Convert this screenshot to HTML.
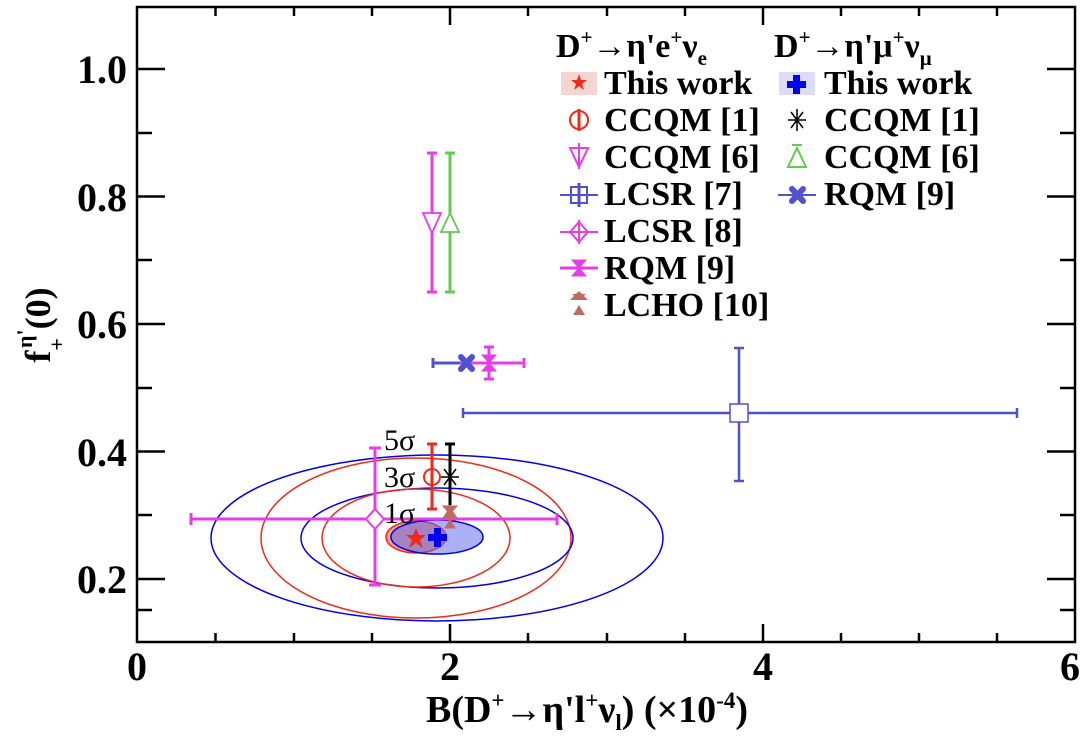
<!DOCTYPE html>
<html><head><meta charset="utf-8"><style>
html,body{margin:0;padding:0;background:#fff;}
svg{display:block;}
text{font-family:"Liberation Serif",serif;font-weight:bold;}
</style></head><body>
<svg width="1090" height="736" viewBox="0 0 1090 736" xmlns="http://www.w3.org/2000/svg">
<g fill="none" stroke-width="1.5">
<ellipse cx="437" cy="538" rx="226" ry="83" stroke="#0000ee"/>
<ellipse cx="416" cy="538" rx="155" ry="80" stroke="#ee2a1a"/>
<ellipse cx="437" cy="538" rx="136" ry="50" stroke="#0000ee"/>
<ellipse cx="416" cy="538" rx="94" ry="49" stroke="#ee2a1a"/>
</g>
<ellipse cx="416" cy="537" rx="30" ry="16" fill="#f2a090" stroke="#ee2a1a" stroke-width="1.5"/>
<ellipse cx="437" cy="537" rx="46" ry="17" fill="rgba(90,100,240,0.5)" stroke="#0000ee" stroke-width="1.5"/>
<g stroke="#e83ce8" stroke-width="3" fill="none">
<line x1="191" y1="519" x2="557" y2="519"/><line x1="375" y1="448" x2="375" y2="585"/>
<line x1="191" y1="513" x2="191" y2="525"/><line x1="557" y1="513" x2="557" y2="525"/>
<line x1="369" y1="448" x2="381" y2="448"/><line x1="369" y1="585" x2="381" y2="585"/>
<path d="M375 509 L384 519 L375 529 L366 519Z" fill="#fff" stroke-width="2"/>
</g>
<g stroke="#ee2a1a" stroke-width="3" fill="none">
<line x1="432" y1="444" x2="432" y2="509"/><line x1="427" y1="444" x2="437" y2="444"/><line x1="427" y1="509" x2="437" y2="509"/>
<circle cx="432" cy="477" r="8" fill="none" stroke-width="2"/>
</g>
<g stroke="#000" stroke-width="3">
<line x1="450" y1="444" x2="450" y2="518"/><line x1="445" y1="444" x2="455" y2="444"/>
<g stroke-width="1.5"><line x1="441" y1="477" x2="459" y2="477"/><line x1="444" y1="469" x2="456" y2="485"/><line x1="456" y1="469" x2="444" y2="485"/><line x1="450" y1="467" x2="450" y2="487"/></g>
</g>
<g fill="#c06a60" stroke="#c06a60">
<line x1="450" y1="505" x2="450" y2="525" stroke-width="3"/>
<path d="M443 518 L457 518 L450 508Z"/><path d="M443 506 L457 506 L450 514Z"/><path d="M445 528 L455 528 L450 520Z"/>
</g>
<path d="M416 528 L419 535 L426 535 L420 540 L423 548 L416 543 L409 548 L412 540 L406 535 L413 535Z" fill="#ee2a1a"/>
<path d="M434 528 h7 v6 h6 v7 h-6 v6 h-7 v-6 h-6 v-7 h6z" fill="#0000ee"/>
<g stroke="#e83ce8" stroke-width="3" fill="none">
<line x1="432" y1="153" x2="432" y2="292"/><line x1="427" y1="153" x2="437" y2="153"/><line x1="427" y1="292" x2="437" y2="292"/>
<path d="M423 213 L441 213 L432 233Z" fill="#fff" stroke-width="1.8"/>
</g>
<g stroke="#60cc50" stroke-width="3" fill="none">
<line x1="450" y1="153" x2="450" y2="292"/><line x1="445" y1="153" x2="455" y2="153"/><line x1="445" y1="292" x2="455" y2="292"/>
<path d="M441 232 L459 232 L450 213Z" fill="#fff" stroke-width="1.8"/>
</g>
<g stroke="#5050d0" stroke-width="3">
<line x1="433" y1="363" x2="498" y2="363"/><line x1="433" y1="358" x2="433" y2="368"/>
</g>
<g stroke="#e83ce8" stroke-width="3" fill="#e83ce8">
<line x1="460" y1="363" x2="524" y2="363"/><line x1="489" y1="347" x2="489" y2="379"/>
<line x1="524" y1="358" x2="524" y2="368"/><line x1="484" y1="347" x2="494" y2="347"/><line x1="484" y1="379" x2="494" y2="379"/>
<path d="M482 355 L496 355 L489 363Z M482 371 L496 371 L489 363Z" stroke-width="1"/>
</g>
<g stroke="#5050d0" stroke-width="6" stroke-linecap="round"><line x1="461" y1="357" x2="472" y2="369"/><line x1="472" y1="357" x2="461" y2="369"/></g>
<g stroke="#5050d0" stroke-width="2.5" fill="none">
<line x1="463" y1="413" x2="1017" y2="413"/><line x1="739" y1="348" x2="739" y2="481"/>
<line x1="463" y1="408" x2="463" y2="418"/><line x1="1017" y1="408" x2="1017" y2="418"/>
<line x1="734" y1="348" x2="744" y2="348"/><line x1="734" y1="481" x2="744" y2="481"/>
<rect x="730" y="404" width="18" height="18" fill="#fff" stroke-width="1.5"/>
</g>
<g font-size="30">
<text x="384" y="450" style="font-weight:normal">5σ</text>
<text x="384" y="487" style="font-weight:normal">3σ</text>
<text x="384" y="523" style="font-weight:normal">1σ</text>
</g>
<rect x="137" y="7" width="938" height="635" fill="none" stroke="#000" stroke-width="2.5"/>
<g stroke="#000" stroke-width="2.5">
<line x1="215.5" y1="642" x2="215.5" y2="633"/><line x1="294" y1="642" x2="294" y2="633"/><line x1="372" y1="642" x2="372" y2="633"/><line x1="450" y1="642" x2="450" y2="624"/>
<line x1="528" y1="642" x2="528" y2="633"/><line x1="607" y1="642" x2="607" y2="633"/><line x1="685" y1="642" x2="685" y2="633"/><line x1="763" y1="642" x2="763" y2="624"/>
<line x1="841" y1="642" x2="841" y2="633"/><line x1="919" y1="642" x2="919" y2="633"/><line x1="997" y1="642" x2="997" y2="633"/>
<line x1="215.5" y1="7" x2="215.5" y2="16"/><line x1="294" y1="7" x2="294" y2="16"/><line x1="372" y1="7" x2="372" y2="16"/><line x1="450" y1="7" x2="450" y2="25"/>
<line x1="528" y1="7" x2="528" y2="16"/><line x1="607" y1="7" x2="607" y2="16"/><line x1="685" y1="7" x2="685" y2="16"/><line x1="763" y1="7" x2="763" y2="25"/>
<line x1="841" y1="7" x2="841" y2="16"/><line x1="919" y1="7" x2="919" y2="16"/><line x1="997" y1="7" x2="997" y2="16"/>
<line x1="137" y1="579" x2="165" y2="579"/><line x1="137" y1="451.5" x2="165" y2="451.5"/><line x1="137" y1="324" x2="165" y2="324"/><line x1="137" y1="196.5" x2="165" y2="196.5"/><line x1="137" y1="69" x2="165" y2="69"/>
<line x1="137" y1="610" x2="152" y2="610"/><line x1="137" y1="515" x2="152" y2="515"/><line x1="137" y1="388" x2="152" y2="388"/><line x1="137" y1="260" x2="152" y2="260"/><line x1="137" y1="133" x2="152" y2="133"/>
<line x1="1075" y1="579" x2="1047" y2="579"/><line x1="1075" y1="451.5" x2="1047" y2="451.5"/><line x1="1075" y1="324" x2="1047" y2="324"/><line x1="1075" y1="196.5" x2="1047" y2="196.5"/><line x1="1075" y1="69" x2="1047" y2="69"/>
<line x1="1075" y1="610" x2="1060" y2="610"/><line x1="1075" y1="515" x2="1060" y2="515"/><line x1="1075" y1="388" x2="1060" y2="388"/><line x1="1075" y1="260" x2="1060" y2="260"/><line x1="1075" y1="133" x2="1060" y2="133"/>
</g>
<g font-size="40" text-anchor="middle">
<text x="137" y="680">0</text><text x="450" y="680">2</text><text x="763" y="680">4</text><text x="1070" y="680">6</text>
</g>
<g font-size="40" text-anchor="end">
<text x="127" y="593">0.2</text><text x="127" y="466">0.4</text><text x="127" y="338">0.6</text><text x="127" y="211">0.8</text><text x="127" y="83">1.0</text>
</g>
<text x="587" y="722" font-size="38" text-anchor="middle">B(D<tspan font-size="23" dy="-14">+</tspan><tspan dy="14">→η'l</tspan><tspan font-size="23" dy="-14">+</tspan><tspan dy="14">ν</tspan><tspan font-size="23" dy="8">l</tspan><tspan dy="-8">) (×10</tspan><tspan font-size="23" dy="-14">-4</tspan><tspan dy="14">)</tspan></text>
<text transform="translate(50,325) rotate(-90)" font-size="36" text-anchor="middle">f<tspan font-size="22" dy="14">+</tspan><tspan font-size="22" dx="-10" dy="-32">η'</tspan><tspan dy="18">(0)</tspan></text>
<g font-size="34">
<text x="556" y="57">D<tspan font-size="21" dy="-13">+</tspan><tspan dy="13">→η'e</tspan><tspan font-size="21" dy="-13">+</tspan><tspan dy="13">ν</tspan><tspan font-size="21" dy="8">e</tspan></text>
<text x="774" y="57">D<tspan font-size="21" dy="-13">+</tspan><tspan dy="13">→η'μ</tspan><tspan font-size="21" dy="-13">+</tspan><tspan dy="13">ν</tspan><tspan font-size="21" dy="8">μ</tspan></text>
<text x="604" y="94">This work</text><text x="604" y="131">CCQM [1]</text><text x="604" y="168">CCQM [6]</text><text x="604" y="205">LCSR [7]</text><text x="604" y="242">LCSR [8]</text><text x="604" y="279">RQM [9]</text><text x="604" y="316">LCHO [10]</text>
<text x="824" y="94">This work</text><text x="824" y="131">CCQM [1]</text><text x="824" y="168">CCQM [6]</text><text x="824" y="205">RQM [9]</text>
</g>
<rect x="561" y="72" width="36" height="23" fill="#f6d4d0"/>
<path d="M579 74 L581 80 L587 80 L582 84 L584 90 L579 86 L574 90 L576 84 L571 80 L577 80Z" fill="#ee2a1a"/>
<g stroke="#ee2a1a" stroke-width="2" fill="none"><circle cx="579" cy="120" r="9"/><line x1="579" y1="109" x2="579" y2="131" stroke-width="3"/></g>
<g stroke="#e83ce8" stroke-width="2" fill="none"><path d="M570 148 L588 148 L579 167Z"/><line x1="579" y1="143" x2="579" y2="169"/></g>
<g stroke="#5050d0" stroke-width="2" fill="none"><line x1="560" y1="195" x2="598" y2="195"/><rect x="571" y="187" width="16" height="16"/><line x1="579" y1="183" x2="579" y2="207" stroke-width="3"/></g>
<g stroke="#e83ce8" stroke-width="2" fill="none"><line x1="560" y1="232" x2="598" y2="232"/><path d="M579 222 L588 232 L579 242 L570 232Z"/><line x1="579" y1="220" x2="579" y2="244"/></g>
<g stroke="#e83ce8" stroke-width="3" fill="#e83ce8"><line x1="560" y1="268" x2="598" y2="268"/><path d="M572 260 L586 260 L579 268Z M572 276 L586 276 L579 268Z" stroke-width="1"/></g>
<g fill="#c06a60"><path d="M570 300 L588 300 L579 291Z"/><path d="M572 294 L586 294 L579 300Z"/><path d="M573 315 L585 315 L579 305Z"/></g>
<rect x="779" y="72" width="36" height="23" fill="#dcdcfa"/>
<path d="M793 75 h7 v6 h6 v7 h-6 v6 h-7 v-6 h-6 v-7 h6z" fill="#0000ee"/>
<g stroke="#000" stroke-width="1.5"><line x1="788" y1="120" x2="806" y2="120"/><line x1="791" y1="112" x2="803" y2="128"/><line x1="803" y1="112" x2="791" y2="128"/><line x1="797" y1="109" x2="797" y2="131"/></g>
<g stroke="#60cc50" stroke-width="2" fill="none"><path d="M788 167 L806 167 L797 148Z"/><line x1="792" y1="145" x2="802" y2="145"/></g>
<line x1="778" y1="195" x2="816" y2="195" stroke="#5050d0" stroke-width="2"/>
<g stroke="#5050d0" stroke-width="6" stroke-linecap="round"><line x1="792" y1="189" x2="803" y2="201"/><line x1="803" y1="189" x2="792" y2="201"/></g>
</svg>
</body></html>
